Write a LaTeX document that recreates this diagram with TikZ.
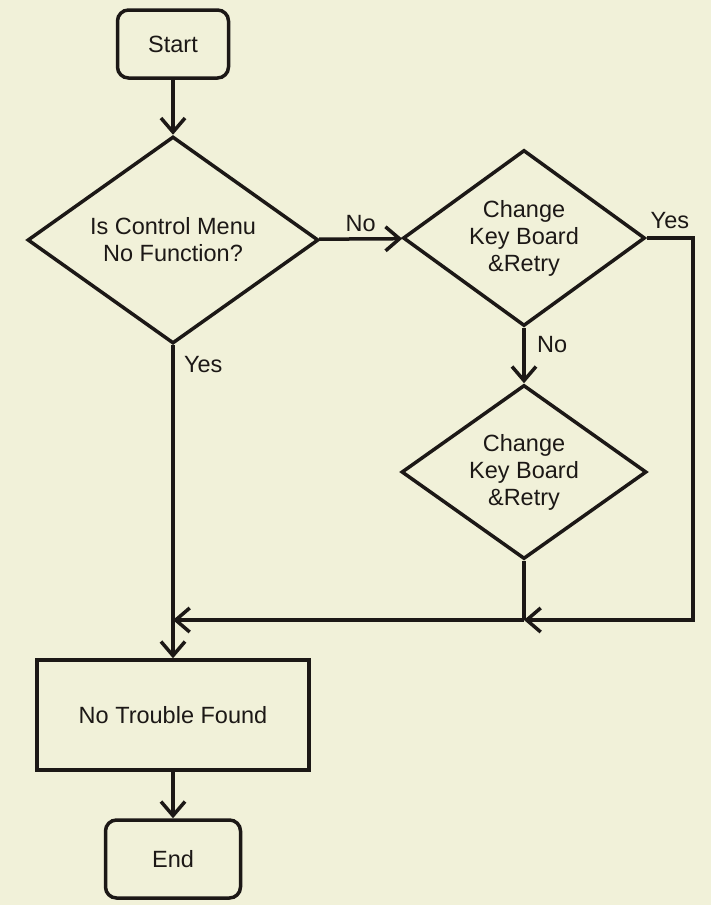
\documentclass[tikz,border=0pt]{standalone}
\usepackage{fontspec}
\setmainfont{Liberation Sans}
\usetikzlibrary{shapes.geometric,arrows.meta}
\definecolor{paper}{RGB}{241,241,217}
\definecolor{ink}{RGB}{28,24,22}

\begin{document}
\begin{tikzpicture}[x=1pt, y=-1pt, line width=3.5pt, draw=ink,
  every node/.style={font=\fontsize{23.5}{27}\selectfont, align=center, text=ink},
  term/.style={draw=ink, rounded corners=11pt, minimum width=111pt, minimum height=68pt},
  proc/.style={draw=ink, minimum width=272pt, minimum height=110pt},
  decide/.style={draw=ink, diamond, aspect=1.4, inner sep=0pt},
  flow/.style={-{Straight Barb[length=14pt,width=24pt]}}]
\fill[paper] (0,0) rectangle (711,905);
\useasboundingbox (0,0) rectangle (711,905);

% boxes and decisions
\node[term] (start) at (173,44) {Start};
\node[decide, minimum width=291pt, minimum height=207pt] (ask) at (173,240) {Is Control Menu\\No Function?};
\node[decide, minimum width=242pt, minimum height=176pt] (kb1) at (524,238) {Change\\Key Board\\\&Retry};
\node[decide, minimum width=245pt, minimum height=174pt] (kb2) at (524,472) {Change\\Key Board\\\&Retry};
\node[proc] (result) at (173,715) {No Trouble Found};
\node[term, minimum width=135pt, minimum height=78pt] (finish) at (173,859) {End};

\coordinate (turn) at (693,620);
\coordinate (join) at (524,620);
\coordinate (merge) at (173,620);

% connectors
\draw[flow] (start) -- (ask);
\draw[flow] (ask) -- node[above=2pt] {No} (kb1);
\draw[flow] (kb1) -- node[pos=0.3, right=8pt] {No} (kb2);
\draw[flow] (kb1.east) -- node[above=4pt] {Yes} (kb1.east -| turn) -- (turn) -- (join);
\draw (kb2) -- (join);
\draw[flow] (join) -- (merge);
\draw[flow] (ask) -- node[pos=0.06, right=6pt] {Yes} (result);
\draw[flow] (result) -- (finish);
\end{tikzpicture}
\end{document}
